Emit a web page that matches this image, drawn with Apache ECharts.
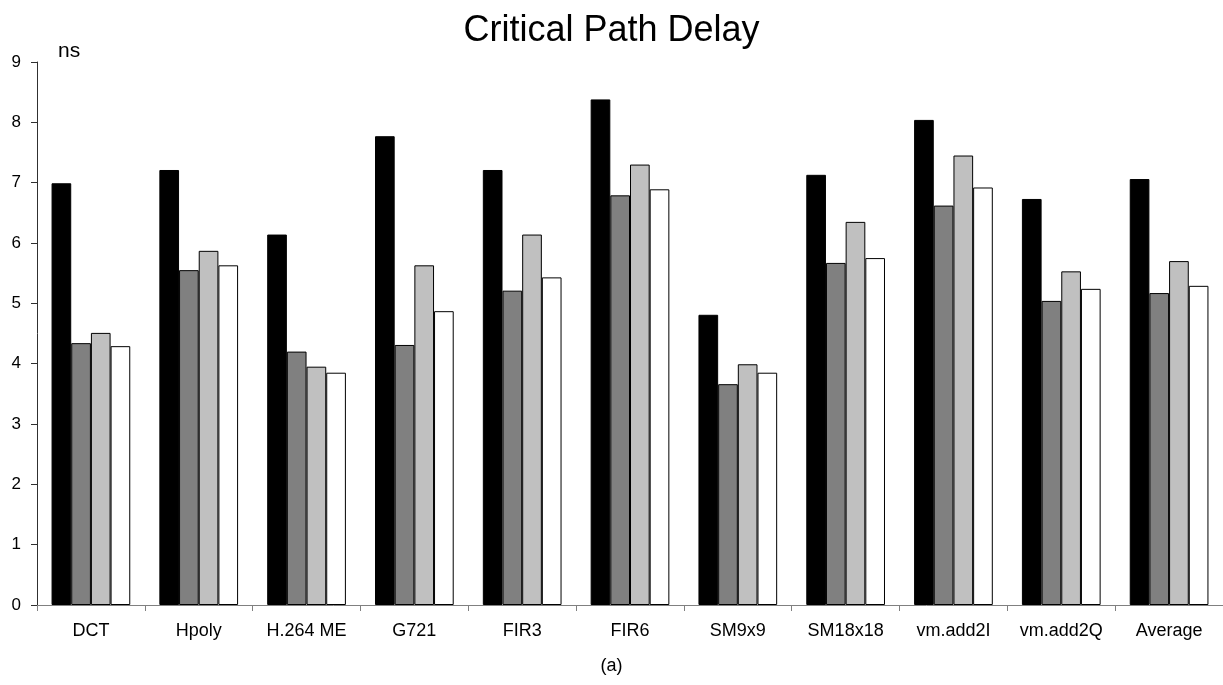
<!DOCTYPE html>
<html><head><meta charset="utf-8">
<script src="https://cdn.jsdelivr.net/npm/echarts@6/dist/echarts.min.js"></script>
<style>html,body{margin:0;padding:0;background:#fff}#c{width:1223px;height:685px}</style>
</head><body><div id="c"></div>
<script>
var categories = ["DCT","Hpoly","H.264 ME","G721","FIR3","FIR6","SM9x9","SM18x18","vm.add2I","vm.add2Q","Average"];
var series1 = [6.99,7.21,6.14,7.77,7.21,8.38,4.81,7.13,8.04,6.73,7.06];
var series2 = [4.34,5.55,4.20,4.31,5.21,6.79,3.66,5.67,6.62,5.04,5.17];
var series3 = [4.51,5.87,3.95,5.63,6.14,7.30,3.99,6.35,7.45,5.53,5.70];
var series4 = [4.29,5.63,3.85,4.87,5.43,6.89,3.85,5.75,6.92,5.24,5.29];
var yTicks = [0,1,2,3,4,5,6,7,8,9];

var font = '"Liberation Sans", Arial, sans-serif';
var chart = echarts.init(document.getElementById('c'), null, {renderer:'canvas'});
function s(name, data, color){
  return {name:name,type:'bar',data:data,barGap:'0%',barCategoryGap:'27%',
    itemStyle:{color:color,borderColor:'#000',borderWidth:1},animation:false};
}
chart.setOption({
  animation:false,
  backgroundColor:'#fff',
  title:[{text:'Critical Path Delay',left:'center',top:8,textStyle:{fontFamily:font,fontSize:36,fontWeight:'normal',color:'#000'}},
         {text:'ns',left:53,top:36,textStyle:{fontFamily:font,fontSize:21,fontWeight:'normal',color:'#000'}},
         {text:'(a)',left:'center',top:652,textStyle:{fontFamily:font,fontSize:18,fontWeight:'normal',color:'#000'}}],
  grid:{left:37,right:-2,top:62,bottom:80},
  xAxis:{type:'category',data:categories,
    axisLine:{lineStyle:{color:'#808080',width:1}},
    axisTick:{show:true,length:6,lineStyle:{color:'#808080'}},
    axisLabel:{fontFamily:font,fontSize:18,color:'#000',margin:17,interval:0}},
  yAxis:{type:'value',min:0,max:9,interval:1,
    axisLine:{show:true,lineStyle:{color:'#303030',width:1}},
    axisTick:{show:true,length:6,lineStyle:{color:'#303030'}},
    splitLine:{show:false},
    axisLabel:{fontFamily:font,fontSize:17,color:'#000',margin:16,
      formatter:function(v){return yTicks.indexOf(v)>=0?String(v):'';}}},
  series:[s('S1',series1,'#000000'),s('S2',series2,'#808080'),s('S3',series3,'#c0c0c0'),s('S4',series4,'#ffffff')]
});
</script></body></html>
